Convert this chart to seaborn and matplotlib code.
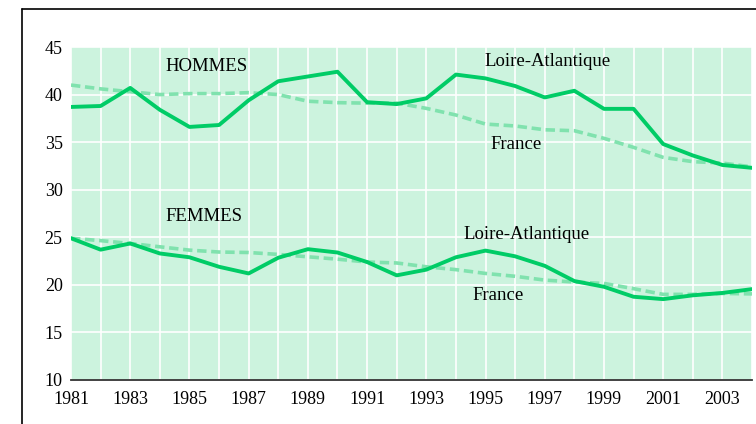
import numpy as np
import pandas as pd
import matplotlib
matplotlib.use('Agg')
import matplotlib.pyplot as plt
import seaborn as sns
from matplotlib.lines import Line2D

# Data
years = list(range(1981, 2005))

hommes_loire = [38.7, 38.8, 40.7, 38.4, 36.6, 36.8, 39.4, 41.4, 41.9, 42.4, 39.2, 39.0,
                39.6, 42.1, 41.7, 40.9, 39.7, 40.4, 38.5, 38.5, 34.8, 33.6, 32.6, 32.3]
hommes_france = [41.0, 40.6, 40.3, 40.0, 40.1, 40.1, 40.2, 40.0, 39.3, 39.15, 39.1, 39.1,
                 38.55, 37.85, 36.9, 36.7, 36.3, 36.2, 35.4, 34.45, 33.4, 32.95, 32.8, 32.4]
femmes_loire = [24.9, 23.7, 24.35, 23.3, 22.9, 21.9, 21.2, 22.85, 23.75, 23.4, 22.4, 21.0,
                21.6, 22.9, 23.6, 23.0, 22.0, 20.4, 19.8, 18.75, 18.5, 18.9, 19.15, 19.55]
femmes_france = [24.9, 24.65, 24.35, 24.0, 23.65, 23.45, 23.4, 23.2, 22.95, 22.7, 22.4, 22.3,
                 21.9, 21.6, 21.2, 20.9, 20.5, 20.3, 20.15, 19.6, 19.0, 19.0, 19.1, 19.05]

BG = '#ccf3de'
SOLID = '#00cc66'
DASHED = '#80e2ae'

sns.set_theme(style='darkgrid', rc={'axes.facecolor': BG, 'grid.color': 'white',
                                     'grid.linewidth': 1.2})
plt.rcParams['font.family'] = ['Liberation Serif', 'DejaVu Serif']

fig = plt.figure(figsize=(7.56, 4.24), dpi=100)
ax = fig.add_axes([71 / 756, 1 - 380 / 424, (752 - 71) / 756, (380 - 47) / 424])

series = [
    (femmes_france, DASHED, (2.6, 1.3)),
    (hommes_france, DASHED, (2.6, 1.3)),
    (femmes_loire, SOLID, None),
    (hommes_loire, SOLID, None),
]
for values, color, dash in series:
    df = pd.DataFrame({'annee': years, 'valeur': values})
    sns.lineplot(data=df, x='annee', y='valeur', ax=ax, color=color,
                 linewidth=2.8 if dash is None else 2.6)
    if dash is not None:
        ax.lines[-1].set_dashes(dash)
        ax.lines[-1].set_dash_capstyle('butt')

ax.set_xlim(1981, 2004)
ax.set_ylim(10, 45)
ax.set_xticks(years)
ax.set_xticklabels([str(y) if y % 2 == 1 else '' for y in years])
ax.set_yticks([10, 15, 20, 25, 30, 35, 40, 45])
ax.tick_params(axis='both', length=0, labelsize=13, colors='black')
ax.tick_params(axis='x', pad=8)
ax.tick_params(axis='y', pad=6)
ax.set_xlabel('')
ax.set_ylabel('')
for side in ['left', 'right', 'top']:
    ax.spines[side].set_visible(False)
ax.spines['bottom'].set_visible(True)
ax.spines['bottom'].set_color('#333333')
ax.spines['bottom'].set_linewidth(1.3)

txt = dict(fontsize=13.5, color='black', va='center')
ax.text(1984.2, 42.9, 'HOMMES', ha='left', **txt)
ax.text(1994.95, 43.5, 'Loire-Atlantique', ha='left', **txt)
ax.text(1995.15, 34.7, 'France', ha='left', **txt)
ax.text(1984.2, 27.2, 'FEMMES', ha='left', **txt)
ax.text(1994.25, 25.3, 'Loire-Atlantique', ha='left', **txt)
ax.text(1994.55, 18.85, 'France', ha='left', **txt)

# partial frame around the figure (left and top edges)
fig.add_artist(Line2D([21.5 / 756, 21.5 / 756], [0, 1 - 8.5 / 424], color='black', linewidth=1.2))
fig.add_artist(Line2D([21.5 / 756, 1], [1 - 8.5 / 424, 1 - 8.5 / 424], color='black', linewidth=1.2))

fig.savefig('out.png', dpi=100, facecolor='white')
